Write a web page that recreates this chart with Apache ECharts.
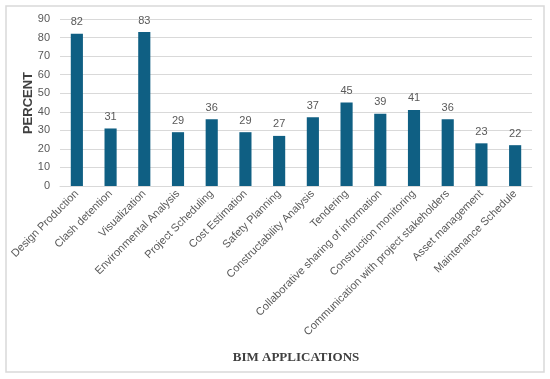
<!DOCTYPE html>
<html><head><meta charset="utf-8">
<script src="https://cdn.jsdelivr.net/npm/echarts@6/dist/echarts.min.js"></script>
<style>html,body{margin:0;padding:0;background:#fff}#c{width:550px;height:379px}</style>
</head><body><div id="c"></div>
<script>
const categories = ["Design Production","Clash detention","Visualization","Environmental Analysis","Project Scheduling","Cost Estimation","Safety Planning","Constructability Analysis","Tendering","Collaborative sharing of information","Construction monitoring","Communication with project stakeholders","Asset management","Maintenance Schedule"];
const percentValues = [82,31,83,29,36,29,27,37,45,39,41,36,23,22];
const yTicks = {min:0,max:90,interval:10};
const yTitle = 'PERCENT';
const xTitle = 'BIM APPLICATIONS';

const chart = echarts.init(document.getElementById('c'));
chart.setOption({
  animation:false,
  backgroundColor:'#fff',
  graphic:[
    {type:'rect',shape:{x:6,y:6,width:538,height:366},style:{fill:'none',stroke:'#d9d9d9',lineWidth:1.5},silent:true},
    {type:'text',x:28,y:103,rotation:Math.PI/2,style:{text:yTitle,align:'center',verticalAlign:'middle',font:'bold 13px "Liberation Sans", Arial, sans-serif',fill:'#404040'},silent:true}
  ],
  grid:{left:60,right:18,top:19,bottom:193},
  xAxis:{type:'category',data:categories,
    axisTick:{show:false},
    axisLine:{lineStyle:{color:'#d9d9d9',width:1}},
    axisLabel:{rotate:45,interval:0,color:'#595959',fontSize:11,fontFamily:'Liberation Sans, Arial, sans-serif',margin:6},
    name:xTitle,nameLocation:'middle',nameGap:165,
    nameTextStyle:{fontFamily:'Liberation Serif, Times New Roman, serif',fontWeight:'bold',fontSize:13,color:'#404040'}
  },
  yAxis:{type:'value',min:yTicks.min,max:yTicks.max,interval:yTicks.interval,
    axisLine:{show:false},axisTick:{show:false},
    splitLine:{lineStyle:{color:'#d9d9d9',width:1}},
    axisLabel:{color:'#595959',fontSize:11,fontFamily:'Liberation Sans, Arial, sans-serif',margin:10}
  },
  series:[{type:'bar',data:percentValues,barWidth:'36%',
    itemStyle:{color:'#0f5f83'},
    label:{show:true,position:'top',color:'#595959',fontSize:11,fontFamily:'Liberation Sans, Arial, sans-serif',distance:6}
  }]
});
</script></body></html>
